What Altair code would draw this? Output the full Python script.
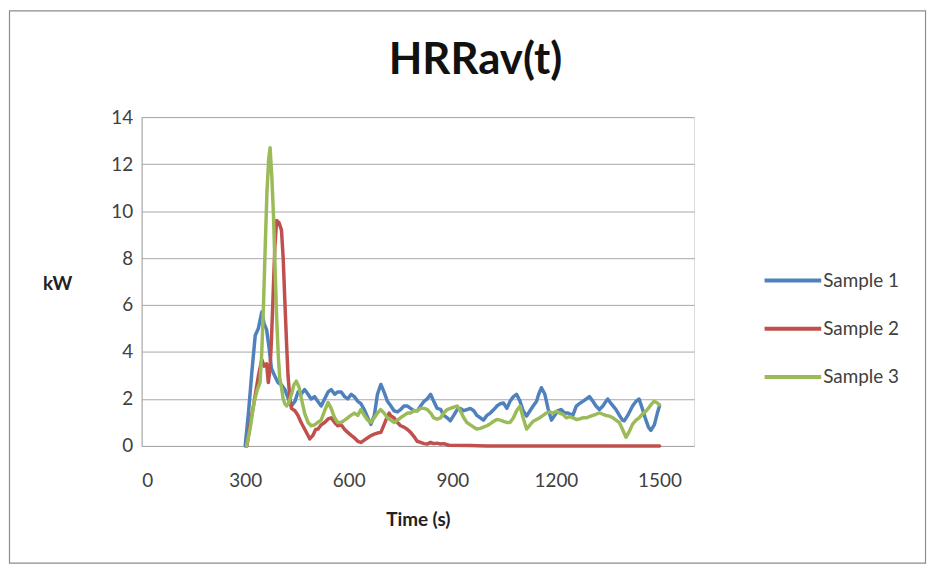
import altair as alt
import pandas as pd

# ---- data ----
series_names = ["Sample 1", "Sample 2", "Sample 3"]
series_colors = ["#4F81BD", "#C0504D", "#9BBB59"]
x_ticks = [0, 300, 600, 900, 1200, 1500]
y_ticks = [0, 2, 4, 6, 8, 10, 12, 14]

t1 = [300, 310, 319, 329, 338, 348, 355, 362, 369, 376, 385, 395, 405, 415, 425, 434, 444, 453, 462, 472,
      482, 491, 501, 510, 520, 530, 540, 549, 559, 568, 578, 588, 597, 607, 616, 626, 635, 645, 655, 664,
      674, 683, 693, 702, 712, 722, 731, 741, 750, 760, 770, 779, 789, 799, 808, 818, 827, 837, 846, 856,
      866, 875, 885, 894, 904, 914, 923, 933, 942, 952, 962, 971, 981, 990, 1000, 1010, 1020, 1029, 1039, 1048,
      1058, 1067, 1077, 1086, 1096, 1105, 1115, 1125, 1134, 1144, 1150, 1158, 1168, 1177, 1187, 1196, 1206, 1215, 1225, 1235,
      1249, 1259, 1268, 1278, 1288, 1297, 1307, 1316, 1326, 1336, 1345, 1350, 1360, 1374, 1384, 1393, 1398, 1408, 1422, 1432,
      1441, 1450, 1460, 1468, 1475, 1485, 1494, 1500]
v1 = [0.0, 1.5, 3.1, 4.7, 5.0, 5.7, 5.2, 4.95, 4.2, 3.3, 3.0, 2.7, 2.6, 2.4, 2.0, 1.7, 1.9, 2.3, 2.2, 2.4,
      2.2, 2.0, 2.1, 1.9, 1.7, 2.0, 2.3, 2.4, 2.2, 2.3, 2.3, 2.1, 2.0, 2.2, 2.1, 1.9, 1.8, 1.55, 1.2, 0.92,
      1.3, 2.2, 2.62, 2.3, 1.9, 1.7, 1.5, 1.45, 1.55, 1.7, 1.7, 1.6, 1.5, 1.5, 1.7, 1.9, 2.0, 2.2, 1.9, 1.6,
      1.56, 1.3, 1.2, 1.07, 1.3, 1.55, 1.6, 1.5, 1.55, 1.6, 1.5, 1.3, 1.2, 1.1, 1.3, 1.4, 1.55, 1.7, 1.8, 1.83,
      1.6, 1.9, 2.1, 2.2, 1.9, 1.5, 1.27, 1.5, 1.7, 1.9, 2.2, 2.48, 2.2, 1.6, 1.1, 1.3, 1.5, 1.55, 1.4, 1.4,
      1.3, 1.7, 1.8, 1.9, 2.0, 2.1, 1.9, 1.7, 1.55, 1.7, 1.9, 2.0, 1.8, 1.55, 1.3, 1.1, 1.07, 1.3, 1.7, 1.9,
      2.0, 1.6, 1.13, 0.8, 0.66, 0.9, 1.41, 1.7]

t2 = [305, 315, 325, 338, 348, 355, 362, 367, 372, 376, 381, 386, 391, 398, 405, 410, 415, 420, 424, 429,
      434, 444, 453, 462, 472, 480, 487, 496, 504, 511, 520, 530, 540, 549, 559, 568, 578, 588, 597, 607,
      616, 626, 635, 645, 655, 664, 674, 683, 693, 702, 710, 717, 722, 731, 741, 750, 760, 770, 779, 789,
      798, 808, 818, 827, 837, 846, 856, 866, 875, 890, 950, 1000, 1100, 1200, 1300, 1400, 1500]
v2 = [0.0, 1.0, 1.8, 2.97, 3.68, 3.4, 3.5, 2.7, 3.3, 4.5, 6.5, 8.5, 9.6, 9.5, 9.2, 8.0, 6.1, 4.3, 3.0, 2.1,
      1.6, 1.5, 1.3, 1.0, 0.72, 0.5, 0.3, 0.45, 0.7, 0.72, 0.9, 1.0, 1.15, 1.2, 1.0, 0.86, 0.9, 0.7, 0.58, 0.45,
      0.35, 0.2, 0.15, 0.25, 0.35, 0.44, 0.5, 0.55, 0.58, 0.9, 1.2, 1.4, 1.28, 1.2, 1.0, 0.86, 0.8, 0.7, 0.58, 0.4,
      0.2, 0.15, 0.1, 0.08, 0.15, 0.1, 0.12, 0.08, 0.1, 0.03, 0.02, 0.0, 0.0, 0.0, 0.0, 0.0, 0.0]

t3 = [304, 315, 325, 335, 343, 348, 353, 358, 363, 368, 372, 377, 382, 386, 391, 396, 400, 405, 410, 415,
      420, 425, 434, 441, 448, 456, 463, 472, 482, 491, 501, 510, 520, 530, 540, 549, 559, 568, 578, 588,
      597, 606, 616, 626, 635, 645, 655, 664, 674, 683, 692, 702, 712, 722, 731, 741, 750, 760, 770, 779,
      789, 799, 808, 818, 827, 837, 846, 856, 866, 875, 885, 894, 904, 914, 923, 933, 942, 952, 962, 971,
      981, 990, 1000, 1010, 1020, 1029, 1039, 1048, 1058, 1067, 1077, 1086, 1096, 1105, 1115, 1125, 1134, 1144, 1153, 1163,
      1173, 1182, 1192, 1201, 1211, 1220, 1230, 1240, 1249, 1259, 1268, 1278, 1288, 1297, 1307, 1316, 1326, 1336, 1345, 1355,
      1365, 1374, 1384, 1393, 1403, 1412, 1422, 1432, 1441, 1450, 1458, 1465, 1475, 1484, 1492, 1500]
v3 = [0.0, 0.8, 1.8, 2.4, 2.7, 4.0, 6.0, 8.5, 10.8, 12.2, 12.7, 11.5, 9.8, 7.8, 5.5, 3.8, 2.9, 2.5, 2.0, 1.8,
      1.7, 1.8, 2.2, 2.6, 2.76, 2.5, 2.0, 1.4, 1.0, 0.86, 0.9, 1.0, 1.1, 1.5, 1.85, 1.6, 1.2, 1.0, 1.0, 1.1,
      1.2, 1.3, 1.4, 1.3, 1.55, 1.3, 1.1, 1.0, 1.2, 1.4, 1.55, 1.4, 1.2, 1.1, 1.0, 1.1, 1.2, 1.3, 1.4, 1.4,
      1.5, 1.5, 1.6, 1.6, 1.56, 1.4, 1.2, 1.14, 1.2, 1.4, 1.55, 1.6, 1.65, 1.7, 1.5, 1.2, 1.0, 0.9, 0.8, 0.72,
      0.75, 0.8, 0.86, 0.95, 1.05, 1.13, 1.1, 1.05, 1.0, 1.0, 1.2, 1.5, 1.7, 1.2, 0.72, 0.9, 1.05, 1.13, 1.2, 1.3,
      1.41, 1.45, 1.4, 1.48, 1.4, 1.35, 1.2, 1.25, 1.2, 1.13, 1.15, 1.2, 1.2, 1.25, 1.3, 1.35, 1.41, 1.35, 1.3, 1.27,
      1.2, 1.1, 0.99, 0.7, 0.37, 0.6, 0.93, 1.1, 1.2, 1.35, 1.45, 1.55, 1.75, 1.9, 1.85, 1.75]

rows = []
for name, ts, vs in zip(series_names, [t1, t2, t3], [v1, v2, v3]):
    for i, (t, v) in enumerate(zip(ts, vs)):
        rows.append({"t": t, "v": v, "series": name, "order": i})
df = pd.DataFrame(rows)

FONT = "Lato"
GRID = "#A6A6A6"

lines = alt.Chart(df).mark_line(strokeWidth=3.5, strokeJoin="round", strokeCap="round").encode(
    x=alt.X("t:Q",
            scale=alt.Scale(domain=[0, 1600], nice=False, zero=True),
            axis=alt.Axis(values=x_ticks, format="d", title="Time (s)", grid=False, tickSize=0,
                          labelPadding=26, labelFontSize=19, labelColor="#404040",
                          domainColor=GRID, labelFont=FONT,
                          titleFont=FONT, titleFontSize=19, titleFontWeight="bold", titleColor="#222222",
                          titleY=74, titleBaseline="middle")),
    y=alt.Y("v:Q",
            scale=alt.Scale(domain=[0, 14], nice=False),
            axis=alt.Axis(values=y_ticks, format="d", title="kW", grid=True, gridColor=GRID, tickSize=0,
                          labelPadding=9, labelFontSize=19, labelColor="#404040", labelFont=FONT,
                          domainColor=GRID,
                          titleFont=FONT, titleFontSize=19, titleFontWeight="bold", titleColor="#222222",
                          titleAngle=0, titleX=-85, titleY=168, titleAlign="center",
                          titleBaseline="middle")),
    color=alt.Color("series:N",
                    scale=alt.Scale(domain=series_names, range=series_colors),
                    legend=alt.Legend(title=None, orient="none", legendX=625, legendY=134,
                                      symbolType="stroke", symbolSize=3249, symbolStrokeWidth=4,
                                      labelFontSize=19, labelFont=FONT, labelColor="#404040",
                                      labelOffset=0, rowPadding=7.5)),
    order="order:Q",
)

border = alt.Chart(pd.DataFrame({"k": [0]})).mark_rect(
    filled=False, stroke="#8C8C8C", strokeWidth=1.2
).encode(
    x=alt.value(-133), x2=alt.value(789), y=alt.value(-107), y2=alt.value(449)
)

chart = alt.layer(border, lines).properties(
    width=556, height=331,
    title=alt.TitleParams("HRRav(t)", font=FONT, fontSize=44, fontWeight="bold", color="#111111",
                          anchor="middle", offset=-73, dx=58),
    autosize=alt.AutoSizeParams(type="none"),
    padding={"left": 134.5, "top": 108, "right": 235.5, "bottom": 119},
).configure_view(stroke=None).configure(background="white")

chart.save("out.html", embed_options={"renderer": "svg", "actions": False})
